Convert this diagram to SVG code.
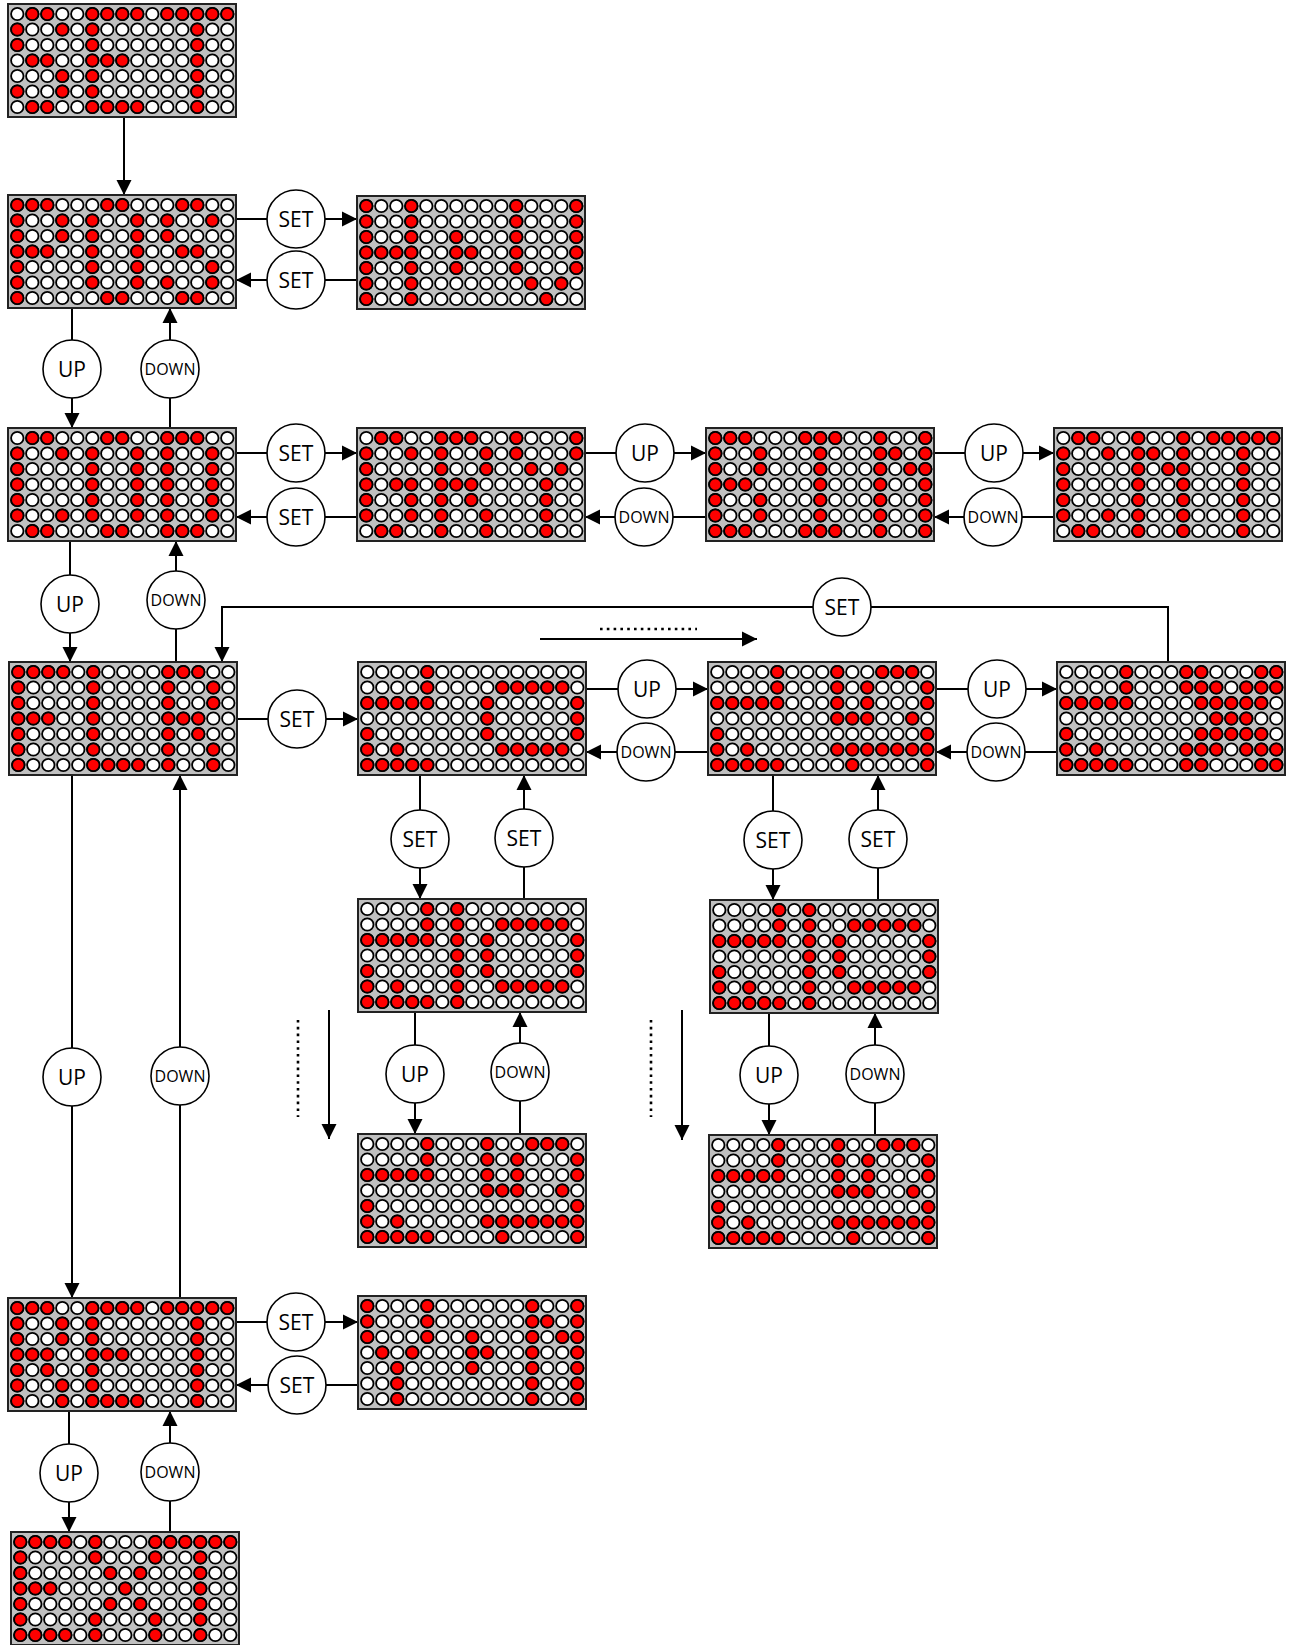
<svg xmlns="http://www.w3.org/2000/svg" width="1291" height="1645" viewBox="0 0 1291 1645">
<style>
.c{fill:none;stroke:#000;stroke-width:2}
.a{marker-end:url(#ah)}
.dt{fill:none;stroke:#000;stroke-width:2.6;stroke-dasharray:2.6 4.2}
.b circle{fill:#fff;stroke:#000;stroke-width:1.6}
.b text{font-family:"Open Sans","Liberation Sans",sans-serif;font-size:21px;text-anchor:middle;fill:#000}
.b text.s{font-size:16px}
</style>
<defs>
<marker id="ah" markerUnits="userSpaceOnUse" markerWidth="16" markerHeight="16" viewBox="0 0 16 16" refX="15" refY="8" orient="auto"><path d="M0,0.5L15,8L0,15.5z" fill="#000"/></marker>
<circle id="w" cx="9.3" cy="10" r="6.2" fill="#fff" stroke="#000" stroke-width="1.8"/>
<circle id="r" cx="9.3" cy="10" r="6.2" fill="#f00" stroke="#000" stroke-width="1.8"/>
<g id="row"><use href="#w"/><use href="#w" x="15"/><use href="#w" x="30"/><use href="#w" x="45"/><use href="#w" x="60"/><use href="#w" x="75"/><use href="#w" x="90"/><use href="#w" x="105"/><use href="#w" x="120"/><use href="#w" x="135"/><use href="#w" x="150"/><use href="#w" x="165"/><use href="#w" x="180"/><use href="#w" x="195"/><use href="#w" x="210"/></g>
<g id="panel"><rect width="228" height="113" fill="#c0c0c0" stroke="#222" stroke-width="2"/><use href="#row"/><use href="#row" y="15.5"/><use href="#row" y="31"/><use href="#row" y="46.5"/><use href="#row" y="62"/><use href="#row" y="77.5"/><use href="#row" y="93"/></g>

<g id="pSET">
<g><use href="#r" x="15"/><use href="#r" x="30"/><use href="#r" x="75"/><use href="#r" x="90"/><use href="#r" x="105"/><use href="#r" x="120"/><use href="#r" x="150"/><use href="#r" x="165"/><use href="#r" x="180"/><use href="#r" x="195"/><use href="#r" x="210"/></g>
<g transform="translate(0,15.5)"><use href="#r" x="0"/><use href="#r" x="45"/><use href="#r" x="75"/><use href="#r" x="180"/></g>
<g transform="translate(0,31)"><use href="#r" x="0"/><use href="#r" x="75"/><use href="#r" x="180"/></g>
<g transform="translate(0,46.5)"><use href="#r" x="15"/><use href="#r" x="30"/><use href="#r" x="75"/><use href="#r" x="90"/><use href="#r" x="105"/><use href="#r" x="180"/></g>
<g transform="translate(0,62)"><use href="#r" x="45"/><use href="#r" x="75"/><use href="#r" x="180"/></g>
<g transform="translate(0,77.5)"><use href="#r" x="0"/><use href="#r" x="45"/><use href="#r" x="75"/><use href="#r" x="180"/></g>
<g transform="translate(0,93)"><use href="#r" x="15"/><use href="#r" x="30"/><use href="#r" x="75"/><use href="#r" x="90"/><use href="#r" x="105"/><use href="#r" x="120"/><use href="#r" x="180"/></g>
</g>

<g id="pPOS">
<g><use href="#r" x="0"/><use href="#r" x="15"/><use href="#r" x="30"/><use href="#r" x="90"/><use href="#r" x="105"/><use href="#r" x="165"/><use href="#r" x="180"/></g>
<g transform="translate(0,15.5)"><use href="#r" x="0"/><use href="#r" x="45"/><use href="#r" x="75"/><use href="#r" x="120"/><use href="#r" x="150"/><use href="#r" x="195"/></g>
<g transform="translate(0,31)"><use href="#r" x="0"/><use href="#r" x="45"/><use href="#r" x="75"/><use href="#r" x="120"/><use href="#r" x="150"/></g>
<g transform="translate(0,46.5)"><use href="#r" x="0"/><use href="#r" x="15"/><use href="#r" x="30"/><use href="#r" x="75"/><use href="#r" x="120"/><use href="#r" x="165"/><use href="#r" x="180"/></g>
<g transform="translate(0,62)"><use href="#r" x="0"/><use href="#r" x="75"/><use href="#r" x="120"/><use href="#r" x="195"/></g>
<g transform="translate(0,77.5)"><use href="#r" x="0"/><use href="#r" x="75"/><use href="#r" x="120"/><use href="#r" x="150"/><use href="#r" x="195"/></g>
<g transform="translate(0,93)"><use href="#r" x="0"/><use href="#r" x="90"/><use href="#r" x="105"/><use href="#r" x="165"/><use href="#r" x="180"/></g>
</g>

<g id="pHV">
<g><use href="#r" x="0"/><use href="#r" x="45"/><use href="#r" x="150"/><use href="#r" x="210"/></g>
<g transform="translate(0,15.5)"><use href="#r" x="0"/><use href="#r" x="45"/><use href="#r" x="150"/><use href="#r" x="210"/></g>
<g transform="translate(0,31)"><use href="#r" x="0"/><use href="#r" x="45"/><use href="#r" x="90"/><use href="#r" x="150"/><use href="#r" x="210"/></g>
<g transform="translate(0,46.5)"><use href="#r" x="0"/><use href="#r" x="15"/><use href="#r" x="30"/><use href="#r" x="45"/><use href="#r" x="90"/><use href="#r" x="105"/><use href="#r" x="150"/><use href="#r" x="210"/></g>
<g transform="translate(0,62)"><use href="#r" x="0"/><use href="#r" x="45"/><use href="#r" x="90"/><use href="#r" x="150"/><use href="#r" x="210"/></g>
<g transform="translate(0,77.5)"><use href="#r" x="0"/><use href="#r" x="45"/><use href="#r" x="165"/><use href="#r" x="195"/></g>
<g transform="translate(0,93)"><use href="#r" x="0"/><use href="#r" x="45"/><use href="#r" x="180"/></g>
</g>

<g id="pCOD">
<g><use href="#r" x="15"/><use href="#r" x="30"/><use href="#r" x="90"/><use href="#r" x="105"/><use href="#r" x="150"/><use href="#r" x="165"/><use href="#r" x="180"/></g>
<g transform="translate(0,15.5)"><use href="#r" x="0"/><use href="#r" x="45"/><use href="#r" x="75"/><use href="#r" x="120"/><use href="#r" x="150"/><use href="#r" x="195"/></g>
<g transform="translate(0,31)"><use href="#r" x="0"/><use href="#r" x="75"/><use href="#r" x="120"/><use href="#r" x="150"/><use href="#r" x="195"/></g>
<g transform="translate(0,46.5)"><use href="#r" x="0"/><use href="#r" x="75"/><use href="#r" x="120"/><use href="#r" x="150"/><use href="#r" x="195"/></g>
<g transform="translate(0,62)"><use href="#r" x="0"/><use href="#r" x="75"/><use href="#r" x="120"/><use href="#r" x="150"/><use href="#r" x="195"/></g>
<g transform="translate(0,77.5)"><use href="#r" x="0"/><use href="#r" x="45"/><use href="#r" x="75"/><use href="#r" x="120"/><use href="#r" x="150"/><use href="#r" x="195"/></g>
<g transform="translate(0,93)"><use href="#r" x="15"/><use href="#r" x="30"/><use href="#r" x="90"/><use href="#r" x="105"/><use href="#r" x="150"/><use href="#r" x="165"/><use href="#r" x="180"/></g>
</g>

<g id="pGRY">
<g><use href="#r" x="15"/><use href="#r" x="30"/><use href="#r" x="75"/><use href="#r" x="90"/><use href="#r" x="105"/><use href="#r" x="150"/><use href="#r" x="210"/></g>
<g transform="translate(0,15.5)"><use href="#r" x="0"/><use href="#r" x="45"/><use href="#r" x="75"/><use href="#r" x="120"/><use href="#r" x="150"/><use href="#r" x="210"/></g>
<g transform="translate(0,31)"><use href="#r" x="0"/><use href="#r" x="75"/><use href="#r" x="120"/><use href="#r" x="165"/><use href="#r" x="195"/></g>
<g transform="translate(0,46.5)"><use href="#r" x="0"/><use href="#r" x="30"/><use href="#r" x="45"/><use href="#r" x="75"/><use href="#r" x="90"/><use href="#r" x="105"/><use href="#r" x="180"/></g>
<g transform="translate(0,62)"><use href="#r" x="0"/><use href="#r" x="45"/><use href="#r" x="75"/><use href="#r" x="105"/><use href="#r" x="180"/></g>
<g transform="translate(0,77.5)"><use href="#r" x="0"/><use href="#r" x="45"/><use href="#r" x="75"/><use href="#r" x="120"/><use href="#r" x="180"/></g>
<g transform="translate(0,93)"><use href="#r" x="15"/><use href="#r" x="30"/><use href="#r" x="75"/><use href="#r" x="120"/><use href="#r" x="180"/></g>
</g>

<g id="pBIN">
<g><use href="#r" x="0"/><use href="#r" x="15"/><use href="#r" x="30"/><use href="#r" x="90"/><use href="#r" x="105"/><use href="#r" x="120"/><use href="#r" x="165"/><use href="#r" x="210"/></g>
<g transform="translate(0,15.5)"><use href="#r" x="0"/><use href="#r" x="45"/><use href="#r" x="105"/><use href="#r" x="165"/><use href="#r" x="180"/><use href="#r" x="210"/></g>
<g transform="translate(0,31)"><use href="#r" x="0"/><use href="#r" x="45"/><use href="#r" x="105"/><use href="#r" x="165"/><use href="#r" x="195"/><use href="#r" x="210"/></g>
<g transform="translate(0,46.5)"><use href="#r" x="0"/><use href="#r" x="15"/><use href="#r" x="30"/><use href="#r" x="105"/><use href="#r" x="165"/><use href="#r" x="210"/></g>
<g transform="translate(0,62)"><use href="#r" x="0"/><use href="#r" x="45"/><use href="#r" x="105"/><use href="#r" x="165"/><use href="#r" x="210"/></g>
<g transform="translate(0,77.5)"><use href="#r" x="0"/><use href="#r" x="45"/><use href="#r" x="105"/><use href="#r" x="165"/><use href="#r" x="210"/></g>
<g transform="translate(0,93)"><use href="#r" x="0"/><use href="#r" x="15"/><use href="#r" x="30"/><use href="#r" x="90"/><use href="#r" x="105"/><use href="#r" x="120"/><use href="#r" x="165"/><use href="#r" x="210"/></g>
</g>

<g id="pCNT">
<g><use href="#r" x="15"/><use href="#r" x="30"/><use href="#r" x="75"/><use href="#r" x="120"/><use href="#r" x="150"/><use href="#r" x="165"/><use href="#r" x="180"/><use href="#r" x="195"/><use href="#r" x="210"/></g>
<g transform="translate(0,15.5)"><use href="#r" x="0"/><use href="#r" x="45"/><use href="#r" x="75"/><use href="#r" x="90"/><use href="#r" x="120"/><use href="#r" x="180"/></g>
<g transform="translate(0,31)"><use href="#r" x="0"/><use href="#r" x="75"/><use href="#r" x="105"/><use href="#r" x="120"/><use href="#r" x="180"/></g>
<g transform="translate(0,46.5)"><use href="#r" x="0"/><use href="#r" x="75"/><use href="#r" x="120"/><use href="#r" x="180"/></g>
<g transform="translate(0,62)"><use href="#r" x="0"/><use href="#r" x="75"/><use href="#r" x="120"/><use href="#r" x="180"/></g>
<g transform="translate(0,77.5)"><use href="#r" x="0"/><use href="#r" x="45"/><use href="#r" x="75"/><use href="#r" x="120"/><use href="#r" x="180"/></g>
<g transform="translate(0,93)"><use href="#r" x="15"/><use href="#r" x="30"/><use href="#r" x="75"/><use href="#r" x="120"/><use href="#r" x="180"/></g>
</g>

<g id="pFLR">
<g><use href="#r" x="0"/><use href="#r" x="15"/><use href="#r" x="30"/><use href="#r" x="45"/><use href="#r" x="75"/><use href="#r" x="150"/><use href="#r" x="165"/><use href="#r" x="180"/></g>
<g transform="translate(0,15.5)"><use href="#r" x="0"/><use href="#r" x="75"/><use href="#r" x="150"/><use href="#r" x="195"/></g>
<g transform="translate(0,31)"><use href="#r" x="0"/><use href="#r" x="75"/><use href="#r" x="150"/><use href="#r" x="195"/></g>
<g transform="translate(0,46.5)"><use href="#r" x="0"/><use href="#r" x="15"/><use href="#r" x="30"/><use href="#r" x="75"/><use href="#r" x="150"/><use href="#r" x="165"/><use href="#r" x="180"/></g>
<g transform="translate(0,62)"><use href="#r" x="0"/><use href="#r" x="75"/><use href="#r" x="150"/><use href="#r" x="180"/></g>
<g transform="translate(0,77.5)"><use href="#r" x="0"/><use href="#r" x="75"/><use href="#r" x="150"/><use href="#r" x="195"/></g>
<g transform="translate(0,93)"><use href="#r" x="0"/><use href="#r" x="75"/><use href="#r" x="90"/><use href="#r" x="105"/><use href="#r" x="120"/><use href="#r" x="150"/><use href="#r" x="195"/></g>
</g>

<g id="pA">
<g><use href="#r" x="60"/></g>
<g transform="translate(0,15.5)"><use href="#r" x="60"/><use href="#r" x="135"/><use href="#r" x="150"/><use href="#r" x="165"/><use href="#r" x="180"/><use href="#r" x="195"/></g>
<g transform="translate(0,31)"><use href="#r" x="0"/><use href="#r" x="15"/><use href="#r" x="30"/><use href="#r" x="45"/><use href="#r" x="60"/><use href="#r" x="120"/><use href="#r" x="210"/></g>
<g transform="translate(0,46.5)"><use href="#r" x="120"/><use href="#r" x="210"/></g>
<g transform="translate(0,62)"><use href="#r" x="0"/><use href="#r" x="120"/><use href="#r" x="210"/></g>
<g transform="translate(0,77.5)"><use href="#r" x="0"/><use href="#r" x="30"/><use href="#r" x="135"/><use href="#r" x="150"/><use href="#r" x="165"/><use href="#r" x="180"/><use href="#r" x="195"/></g>
<g transform="translate(0,93)"><use href="#r" x="0"/><use href="#r" x="15"/><use href="#r" x="30"/><use href="#r" x="45"/><use href="#r" x="60"/></g>
</g>

<g id="pB">
<g><use href="#r" x="60"/><use href="#r" x="120"/><use href="#r" x="165"/><use href="#r" x="180"/><use href="#r" x="195"/></g>
<g transform="translate(0,15.5)"><use href="#r" x="60"/><use href="#r" x="120"/><use href="#r" x="150"/><use href="#r" x="210"/></g>
<g transform="translate(0,31)"><use href="#r" x="0"/><use href="#r" x="15"/><use href="#r" x="30"/><use href="#r" x="45"/><use href="#r" x="60"/><use href="#r" x="120"/><use href="#r" x="150"/><use href="#r" x="210"/></g>
<g transform="translate(0,46.5)"><use href="#r" x="120"/><use href="#r" x="135"/><use href="#r" x="150"/><use href="#r" x="195"/></g>
<g transform="translate(0,62)"><use href="#r" x="0"/><use href="#r" x="210"/></g>
<g transform="translate(0,77.5)"><use href="#r" x="0"/><use href="#r" x="30"/><use href="#r" x="120"/><use href="#r" x="135"/><use href="#r" x="150"/><use href="#r" x="165"/><use href="#r" x="180"/><use href="#r" x="195"/><use href="#r" x="210"/></g>
<g transform="translate(0,93)"><use href="#r" x="0"/><use href="#r" x="15"/><use href="#r" x="30"/><use href="#r" x="45"/><use href="#r" x="60"/><use href="#r" x="135"/><use href="#r" x="210"/></g>
</g>

<g id="pC">
<g><use href="#r" x="60"/><use href="#r" x="120"/><use href="#r" x="135"/><use href="#r" x="195"/><use href="#r" x="210"/></g>
<g transform="translate(0,15.5)"><use href="#r" x="60"/><use href="#r" x="120"/><use href="#r" x="135"/><use href="#r" x="150"/><use href="#r" x="180"/><use href="#r" x="195"/><use href="#r" x="210"/></g>
<g transform="translate(0,31)"><use href="#r" x="0"/><use href="#r" x="15"/><use href="#r" x="30"/><use href="#r" x="45"/><use href="#r" x="60"/><use href="#r" x="135"/><use href="#r" x="150"/><use href="#r" x="165"/><use href="#r" x="180"/><use href="#r" x="195"/></g>
<g transform="translate(0,46.5)"><use href="#r" x="150"/><use href="#r" x="165"/><use href="#r" x="180"/></g>
<g transform="translate(0,62)"><use href="#r" x="0"/><use href="#r" x="135"/><use href="#r" x="150"/><use href="#r" x="165"/><use href="#r" x="180"/><use href="#r" x="195"/></g>
<g transform="translate(0,77.5)"><use href="#r" x="0"/><use href="#r" x="30"/><use href="#r" x="120"/><use href="#r" x="135"/><use href="#r" x="150"/><use href="#r" x="180"/><use href="#r" x="195"/><use href="#r" x="210"/></g>
<g transform="translate(0,93)"><use href="#r" x="0"/><use href="#r" x="15"/><use href="#r" x="30"/><use href="#r" x="45"/><use href="#r" x="60"/><use href="#r" x="120"/><use href="#r" x="135"/><use href="#r" x="195"/><use href="#r" x="210"/></g>
</g>

<g id="pD">
<g><use href="#r" x="60"/><use href="#r" x="90"/></g>
<g transform="translate(0,15.5)"><use href="#r" x="60"/><use href="#r" x="90"/><use href="#r" x="135"/><use href="#r" x="150"/><use href="#r" x="165"/><use href="#r" x="180"/><use href="#r" x="195"/></g>
<g transform="translate(0,31)"><use href="#r" x="0"/><use href="#r" x="15"/><use href="#r" x="30"/><use href="#r" x="45"/><use href="#r" x="60"/><use href="#r" x="90"/><use href="#r" x="120"/><use href="#r" x="210"/></g>
<g transform="translate(0,46.5)"><use href="#r" x="90"/><use href="#r" x="120"/><use href="#r" x="210"/></g>
<g transform="translate(0,62)"><use href="#r" x="0"/><use href="#r" x="90"/><use href="#r" x="120"/><use href="#r" x="210"/></g>
<g transform="translate(0,77.5)"><use href="#r" x="0"/><use href="#r" x="30"/><use href="#r" x="90"/><use href="#r" x="135"/><use href="#r" x="150"/><use href="#r" x="165"/><use href="#r" x="180"/><use href="#r" x="195"/></g>
<g transform="translate(0,93)"><use href="#r" x="0"/><use href="#r" x="15"/><use href="#r" x="30"/><use href="#r" x="45"/><use href="#r" x="60"/><use href="#r" x="90"/></g>
</g>

<g id="pRET">
<g><use href="#r" x="0"/><use href="#r" x="15"/><use href="#r" x="30"/><use href="#r" x="75"/><use href="#r" x="90"/><use href="#r" x="105"/><use href="#r" x="120"/><use href="#r" x="150"/><use href="#r" x="165"/><use href="#r" x="180"/><use href="#r" x="195"/><use href="#r" x="210"/></g>
<g transform="translate(0,15.5)"><use href="#r" x="0"/><use href="#r" x="45"/><use href="#r" x="75"/><use href="#r" x="180"/></g>
<g transform="translate(0,31)"><use href="#r" x="0"/><use href="#r" x="45"/><use href="#r" x="75"/><use href="#r" x="180"/></g>
<g transform="translate(0,46.5)"><use href="#r" x="0"/><use href="#r" x="15"/><use href="#r" x="30"/><use href="#r" x="75"/><use href="#r" x="90"/><use href="#r" x="105"/><use href="#r" x="180"/></g>
<g transform="translate(0,62)"><use href="#r" x="0"/><use href="#r" x="30"/><use href="#r" x="75"/><use href="#r" x="180"/></g>
<g transform="translate(0,77.5)"><use href="#r" x="0"/><use href="#r" x="45"/><use href="#r" x="75"/><use href="#r" x="180"/></g>
<g transform="translate(0,93)"><use href="#r" x="0"/><use href="#r" x="45"/><use href="#r" x="75"/><use href="#r" x="90"/><use href="#r" x="105"/><use href="#r" x="120"/><use href="#r" x="180"/></g>
</g>

<g id="pYN">
<g><use href="#r" x="0"/><use href="#r" x="60"/><use href="#r" x="165"/><use href="#r" x="210"/></g>
<g transform="translate(0,15.5)"><use href="#r" x="0"/><use href="#r" x="60"/><use href="#r" x="165"/><use href="#r" x="180"/><use href="#r" x="210"/></g>
<g transform="translate(0,31)"><use href="#r" x="0"/><use href="#r" x="60"/><use href="#r" x="105"/><use href="#r" x="165"/><use href="#r" x="195"/><use href="#r" x="210"/></g>
<g transform="translate(0,46.5)"><use href="#r" x="15"/><use href="#r" x="45"/><use href="#r" x="105"/><use href="#r" x="120"/><use href="#r" x="165"/><use href="#r" x="210"/></g>
<g transform="translate(0,62)"><use href="#r" x="30"/><use href="#r" x="105"/><use href="#r" x="165"/><use href="#r" x="210"/></g>
<g transform="translate(0,77.5)"><use href="#r" x="30"/><use href="#r" x="165"/><use href="#r" x="210"/></g>
<g transform="translate(0,93)"><use href="#r" x="30"/><use href="#r" x="165"/><use href="#r" x="210"/></g>
</g>

<g id="pEXT">
<g><use href="#r" x="0"/><use href="#r" x="15"/><use href="#r" x="30"/><use href="#r" x="45"/><use href="#r" x="75"/><use href="#r" x="135"/><use href="#r" x="150"/><use href="#r" x="165"/><use href="#r" x="180"/><use href="#r" x="195"/><use href="#r" x="210"/></g>
<g transform="translate(0,15.5)"><use href="#r" x="0"/><use href="#r" x="75"/><use href="#r" x="135"/><use href="#r" x="180"/></g>
<g transform="translate(0,31)"><use href="#r" x="0"/><use href="#r" x="90"/><use href="#r" x="120"/><use href="#r" x="180"/></g>
<g transform="translate(0,46.5)"><use href="#r" x="0"/><use href="#r" x="15"/><use href="#r" x="30"/><use href="#r" x="105"/><use href="#r" x="180"/></g>
<g transform="translate(0,62)"><use href="#r" x="0"/><use href="#r" x="90"/><use href="#r" x="120"/><use href="#r" x="180"/></g>
<g transform="translate(0,77.5)"><use href="#r" x="0"/><use href="#r" x="75"/><use href="#r" x="135"/><use href="#r" x="180"/></g>
<g transform="translate(0,93)"><use href="#r" x="0"/><use href="#r" x="15"/><use href="#r" x="30"/><use href="#r" x="45"/><use href="#r" x="75"/><use href="#r" x="135"/><use href="#r" x="180"/></g>
</g>
</defs>

<rect width="1291" height="1645" fill="#fff"/>

<g id="connectors" class="c">
<path class="a" d="M124,117V195"/>
<path class="a" d="M236,219H357"/>
<path class="a" d="M357,280H236"/>
<path class="a" d="M72,308V428"/>
<path class="a" d="M170,428V308"/>
<path class="a" d="M236,453H357"/>
<path class="a" d="M357,517H236"/>
<path class="a" d="M585,453H706"/>
<path class="a" d="M706,517H585"/>
<path class="a" d="M934,453H1054"/>
<path class="a" d="M1054,517H934"/>
<path class="a" d="M70,541V662"/>
<path class="a" d="M176,662V541"/>
<path class="a" d="M1168,662V607H222V662"/>
<path class="a" d="M237,719H358"/>
<path class="a" d="M586,689H708"/>
<path class="a" d="M708,752H586"/>
<path class="a" d="M936,689H1057"/>
<path class="a" d="M1057,752H936"/>
<path class="a" d="M420,775V899"/>
<path class="a" d="M524,899V775"/>
<path class="a" d="M773,775V900"/>
<path class="a" d="M878,900V775"/>
<path class="a" d="M415,1012V1134"/>
<path class="a" d="M520,1134V1012"/>
<path class="a" d="M769,1013V1135"/>
<path class="a" d="M875,1135V1013"/>
<path class="a" d="M72,775V1298"/>
<path class="a" d="M180,1298V775"/>
<path class="a" d="M236,1322H358"/>
<path class="a" d="M358,1385H236"/>
<path class="a" d="M69,1411V1532"/>
<path class="a" d="M170,1532V1411"/>
<path class="a" d="M540,639H757"/>
<path class="a" d="M329,1010V1139"/>
<path class="a" d="M682,1010V1140"/>
<path class="dt" d="M600,629H697"/>
<path class="dt" d="M298,1020V1117"/>
<path class="dt" d="M651,1020V1117"/>
</g>

<g id="displays">
<g id="d-set" transform="translate(8,4)"><use href="#panel"/><use href="#pSET"/></g>
<g id="d-pos" transform="translate(8,195)"><use href="#panel"/><use href="#pPOS"/></g>
<g id="d-pos-val" transform="translate(357,196)"><use href="#panel"/><use href="#pHV"/></g>
<g id="d-cod" transform="translate(8,428)"><use href="#panel"/><use href="#pCOD"/></g>
<g id="d-gry" transform="translate(357,428)"><use href="#panel"/><use href="#pGRY"/></g>
<g id="d-bin" transform="translate(706,428)"><use href="#panel"/><use href="#pBIN"/></g>
<g id="d-cnt" transform="translate(1054,428)"><use href="#panel"/><use href="#pCNT"/></g>
<g id="d-flr" transform="translate(9,662)"><use href="#panel"/><use href="#pFLR"/></g>
<g id="d-f1" transform="translate(358,662)"><use href="#panel"/><use href="#pA"/></g>
<g id="d-f2" transform="translate(708,662)"><use href="#panel"/><use href="#pB"/></g>
<g id="d-f3" transform="translate(1057,662)"><use href="#panel"/><use href="#pC"/></g>
<g id="d-f1a" transform="translate(358,899)"><use href="#panel"/><use href="#pD"/></g>
<g id="d-f2a" transform="translate(710,900)"><use href="#panel"/><use href="#pD"/></g>
<g id="d-f1b" transform="translate(358,1134)"><use href="#panel"/><use href="#pB"/></g>
<g id="d-f2b" transform="translate(709,1135)"><use href="#panel"/><use href="#pB"/></g>
<g id="d-ret" transform="translate(8,1298)"><use href="#panel"/><use href="#pRET"/></g>
<g id="d-ret-val" transform="translate(358,1296)"><use href="#panel"/><use href="#pYN"/></g>
<g id="d-ext" transform="translate(11,1532)"><use href="#panel"/><use href="#pEXT"/></g>
</g>

<g id="buttons" class="b">
<g id="b1"><circle cx="296" cy="219" r="29"/><text x="296" y="226.5">SET</text></g>
<g id="b2"><circle cx="296" cy="280" r="29"/><text x="296" y="287.5">SET</text></g>
<g id="b3"><circle cx="72" cy="369" r="29"/><text x="72" y="376.5">UP</text></g>
<g id="b4"><circle cx="170" cy="369" r="29"/><text class="s" x="170" y="374.7">DOWN</text></g>
<g id="b5"><circle cx="296" cy="453" r="29"/><text x="296" y="460.5">SET</text></g>
<g id="b6"><circle cx="296" cy="517" r="29"/><text x="296" y="524.5">SET</text></g>
<g id="b7"><circle cx="645" cy="453" r="29"/><text x="645" y="460.5">UP</text></g>
<g id="b8"><circle cx="644" cy="517" r="29"/><text class="s" x="644" y="522.7">DOWN</text></g>
<g id="b9"><circle cx="994" cy="453" r="29"/><text x="994" y="460.5">UP</text></g>
<g id="b10"><circle cx="993" cy="517" r="29"/><text class="s" x="993" y="522.7">DOWN</text></g>
<g id="b11"><circle cx="70" cy="604" r="29"/><text x="70" y="611.5">UP</text></g>
<g id="b12"><circle cx="176" cy="600" r="29"/><text class="s" x="176" y="605.7">DOWN</text></g>
<g id="b13"><circle cx="842" cy="607" r="29"/><text x="842" y="614.5">SET</text></g>
<g id="b14"><circle cx="297" cy="719" r="29"/><text x="297" y="726.5">SET</text></g>
<g id="b15"><circle cx="647" cy="689" r="29"/><text x="647" y="696.5">UP</text></g>
<g id="b16"><circle cx="646" cy="752" r="29"/><text class="s" x="646" y="757.7">DOWN</text></g>
<g id="b17"><circle cx="997" cy="689" r="29"/><text x="997" y="696.5">UP</text></g>
<g id="b18"><circle cx="996" cy="752" r="29"/><text class="s" x="996" y="757.7">DOWN</text></g>
<g id="b19"><circle cx="420" cy="839" r="29"/><text x="420" y="846.5">SET</text></g>
<g id="b20"><circle cx="524" cy="838" r="29"/><text x="524" y="845.5">SET</text></g>
<g id="b21"><circle cx="773" cy="840" r="29"/><text x="773" y="847.5">SET</text></g>
<g id="b22"><circle cx="878" cy="839" r="29"/><text x="878" y="846.5">SET</text></g>
<g id="b23"><circle cx="415" cy="1074" r="29"/><text x="415" y="1081.5">UP</text></g>
<g id="b24"><circle cx="520" cy="1072" r="29"/><text class="s" x="520" y="1077.7">DOWN</text></g>
<g id="b25"><circle cx="769" cy="1075" r="29"/><text x="769" y="1082.5">UP</text></g>
<g id="b26"><circle cx="875" cy="1074" r="29"/><text class="s" x="875" y="1079.7">DOWN</text></g>
<g id="b27"><circle cx="72" cy="1077" r="29"/><text x="72" y="1084.5">UP</text></g>
<g id="b28"><circle cx="180" cy="1076" r="29"/><text class="s" x="180" y="1081.7">DOWN</text></g>
<g id="b29"><circle cx="296" cy="1322" r="29"/><text x="296" y="1329.5">SET</text></g>
<g id="b30"><circle cx="297" cy="1385" r="29"/><text x="297" y="1392.5">SET</text></g>
<g id="b31"><circle cx="69" cy="1473" r="29"/><text x="69" y="1480.5">UP</text></g>
<g id="b32"><circle cx="170" cy="1472" r="29"/><text class="s" x="170" y="1477.7">DOWN</text></g>
</g>
</svg>
